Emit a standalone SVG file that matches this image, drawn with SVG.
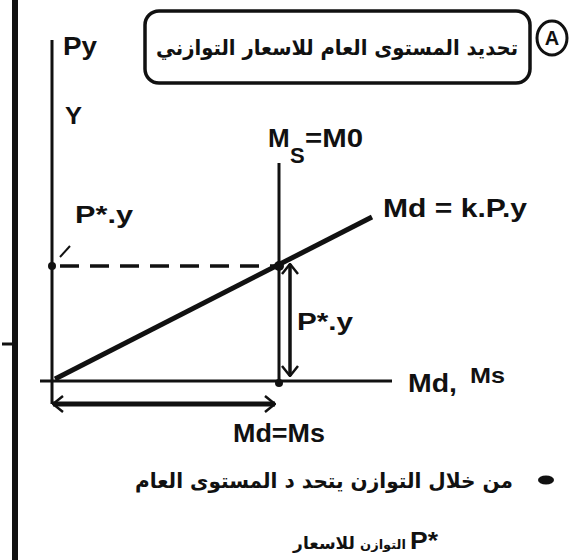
<svg xmlns="http://www.w3.org/2000/svg" width="571" height="560" viewBox="0 0 571 560">
<style>
.lat{font-family:"Liberation Sans",Arial,sans-serif;font-weight:bold;fill:#111}
.ar{font-family:"DejaVu Sans","Noto Sans",sans-serif;font-weight:bold;fill:#111}
.ln{stroke:#111;fill:none;stroke-linecap:butt}
</style>
<defs>
<marker id="chev" viewBox="0 0 12 18" refX="11" refY="9" markerWidth="12" markerHeight="18" markerUnits="userSpaceOnUse" orient="auto-start-reverse">
<path d="M1,1 L11,9 L1,17" fill="none" stroke="#111" stroke-width="2.5"/>
</marker>
</defs>
<rect width="571" height="560" fill="#fff"/>
<g id="frame">
<rect x="12" y="0" width="6" height="560" fill="#111"/>
<line class="ln" x1="2" y1="344" x2="14" y2="344" stroke-width="3"/>
</g>
<g id="title">
<rect x="145" y="11" width="385" height="72" rx="14" ry="14" fill="#fff" stroke="#111" stroke-width="3.5"/>
<text class="ar" x="337" y="55" font-size="21" text-anchor="middle" textLength="362" lengthAdjust="spacingAndGlyphs">تحديد المستوى العام للاسعار التوازني</text>
</g>
<g id="badge-A">
<ellipse cx="552" cy="38" rx="15" ry="17" fill="#fff" stroke="#111" stroke-width="3"/>
<text class="lat" x="552" y="45" font-size="20" text-anchor="middle">A</text>
</g>
<g id="connectors">
<line id="y-axis" class="ln" x1="52" y1="40" x2="52" y2="404" stroke-width="3"/>
<line id="x-axis" class="ln" x1="40" y1="381" x2="392" y2="381" stroke-width="3"/>
<line id="ms-line" class="ln" x1="279" y1="163" x2="279" y2="381" stroke-width="3"/>
<line id="md-line" class="ln" x1="55" y1="379" x2="372" y2="217" stroke-width="5"/>
<line id="dashed" class="ln" x1="60" y1="266" x2="279" y2="266" stroke-width="3.5" stroke="#333" stroke-dasharray="19 11"/>
<line id="tick" class="ln" x1="60" y1="257" x2="70" y2="246" stroke-width="2"/>
<line id="v-arrow" class="ln" x1="290" y1="264" x2="290" y2="376" stroke-width="3.5" marker-start="url(#chev)" marker-end="url(#chev)"/>
<line id="h-arrow" class="ln" x1="53" y1="404" x2="275" y2="404" stroke-width="5" marker-start="url(#chev)" marker-end="url(#chev)"/>
<circle cx="279" cy="266" r="5" fill="#111"/>
<circle cx="52" cy="266" r="4" fill="#111"/>
<circle cx="279" cy="383" r="4" fill="#111"/>
</g>
<g id="labels">
<text class="lat" x="63" y="55" font-size="25" textLength="34" lengthAdjust="spacingAndGlyphs">Py</text>
<text class="lat" x="65" y="124" font-size="24" textLength="17" lengthAdjust="spacingAndGlyphs">Y</text>
<text class="lat" x="75" y="223" font-size="24" textLength="58" lengthAdjust="spacingAndGlyphs">P*.y</text>
<text class="lat" font-size="26"><tspan x="268" y="147">M</tspan><tspan x="290" y="163" font-size="22">S</tspan><tspan x="305" y="147" textLength="58" lengthAdjust="spacingAndGlyphs">=M0</tspan></text>
<text class="lat" x="383" y="217" font-size="25" textLength="144" lengthAdjust="spacingAndGlyphs">Md = k.P.y</text>
<text class="lat" x="297" y="330" font-size="24" font-weight="normal" textLength="56" lengthAdjust="spacingAndGlyphs">P*.y</text>
<text class="lat" x="408" y="392" font-size="26" textLength="49" lengthAdjust="spacingAndGlyphs">Md,</text>
<text class="lat" x="470" y="383" font-size="22" textLength="35" lengthAdjust="spacingAndGlyphs">Ms</text>
<text class="lat" x="233" y="442" font-size="26" textLength="92" lengthAdjust="spacingAndGlyphs">Md=Ms</text>
</g>
<g id="note">
<ellipse cx="546" cy="480" rx="8" ry="4.5" fill="#111"/>
<text class="ar" x="324" y="488" font-size="20.5" text-anchor="middle" textLength="378" lengthAdjust="spacingAndGlyphs">من خلال التوازن يتحد د المستوى العام</text>
<text class="ar" x="324" y="549" font-size="17" text-anchor="middle">للاسعار</text>
<text class="ar" x="383" y="549" font-size="13" text-anchor="middle">التوازن</text>
<text class="lat" x="410" y="549" font-size="24" textLength="28" lengthAdjust="spacingAndGlyphs">P*</text>
</g>
</svg>
